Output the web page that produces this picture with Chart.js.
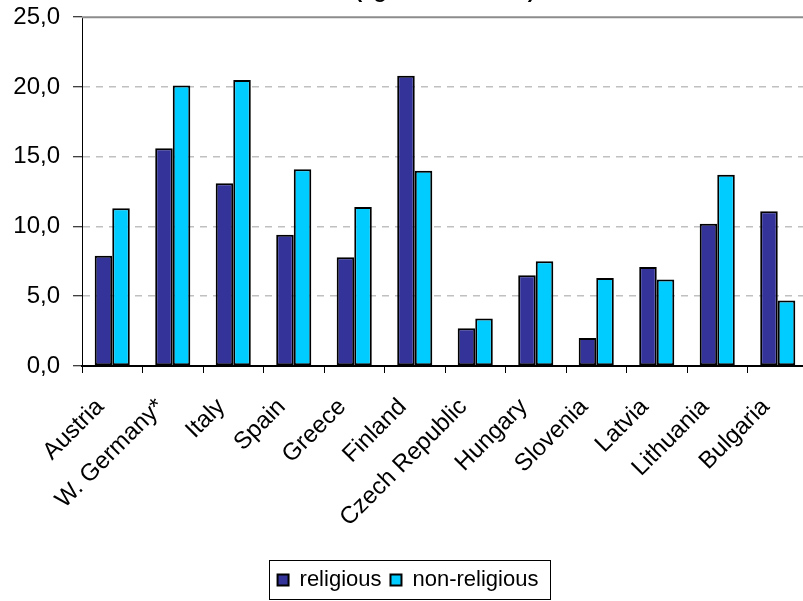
<!DOCTYPE html>
<html><head><meta charset="utf-8">
<script src="https://cdn.jsdelivr.net/npm/chart.js@4"></script>
<style>
html,body{margin:0;padding:0;background:#fff;overflow:hidden;width:803px;height:601px;}
#wrap{position:absolute;left:0;top:-20px;width:808px;height:621px;}
</style></head><body>
<div id="wrap"><canvas id="c" width="808" height="621"></canvas></div>
<script>
const titleText = '(age 18 and older)';
const categories = ['Austria','W. Germany*','Italy','Spain','Greece','Finland','Czech Republic','Hungary','Slovenia','Latvia','Lithuania','Bulgaria'];
const religious = [7.9, 15.6, 13.1, 9.4, 7.8, 20.8, 2.7, 6.5, 2.0, 7.1, 10.2, 11.1];
const nonReligious = [11.3, 20.1, 20.5, 14.1, 11.4, 14.0, 3.4, 7.5, 6.3, 6.2, 13.7, 4.7];
const seriesNames = ['religious', 'non-religious'];
const yMin = 0, yMax = 25, yStep = 5;

Chart.defaults.font.family = "'Liberation Sans', Arial, sans-serif";
Chart.defaults.color = '#000';

const topFrame = {
  id: 'topFrame',
  afterDatasetsDraw(chart) {
    const a = chart.chartArea, ctx = chart.ctx;
    ctx.save();
    ctx.strokeStyle = '#8c8c8c';
    ctx.lineWidth = 2;
    ctx.beginPath();
    ctx.moveTo(a.left, a.top);
    ctx.lineTo(a.right, a.top);
    ctx.stroke();
    ctx.restore();
  }
};
const legendFrame = {
  id: 'legendFrame',
  afterDraw(chart) {
    const lg = chart.legend;
    if (!lg || !lg.legendHitBoxes || !lg.legendHitBoxes.length) return;
    const hb = lg.legendHitBoxes;
    let l = Infinity, r = -Infinity;
    hb.forEach(b => { l = Math.min(l, b.left); r = Math.max(r, b.left + b.width); });
    const ctx = chart.ctx;
    ctx.save();
    ctx.strokeStyle = '#000';
    ctx.lineWidth = 1;
    ctx.strokeRect(Math.round(l - 9) + 0.5, Math.round(lg.top) + 0.5, Math.round(r - l + 20), Math.round(lg.height - 2));
    ctx.restore();
  }
};

new Chart(document.getElementById('c'), {
  type: 'bar',
  data: {
    labels: categories,
    datasets: [
      { label: seriesNames[0], data: religious, backgroundColor: '#333399', borderColor: '#000', borderWidth: 2, borderSkipped: false },
      { label: seriesNames[1], data: nonReligious, backgroundColor: '#00CCFF', borderColor: '#000', borderWidth: 2, borderSkipped: false }
    ]
  },
  options: {
    responsive: false,
    animation: false,
    datasets: { bar: { categoryPercentage: 0.58, barPercentage: 1.0 } },
    layout: { padding: { left: 8, right: 0, top: 0, bottom: 0 } },
    plugins: {
      title: { display: true, text: titleText, fullSize: false, font: { size: 21, weight: 'bold' }, padding: { top: 0, bottom: 12 }, color: '#000' },
      legend: {
        position: 'bottom',
        labels: { boxWidth: 11, boxHeight: 11, padding: 9, font: { size: 22 }, color: '#000' }
      },
      tooltip: { enabled: false }
    },
    scales: {
      x: {
        offset: true,
        grid: { offset: true, drawOnChartArea: false, tickLength: 7, tickColor: '#000', tickWidth: 1 },
        border: { color: '#000', width: 2 },
        ticks: { minRotation: 45, maxRotation: 45, autoSkip: false, font: { size: 24 }, padding: 20, labelOffset: -12, color: '#000' },
        afterFit(s) { s.height = 194; s.paddingRight = 0; s.paddingLeft = 0; }
      },
      y: {
        min: yMin, max: yMax,
        grid: {
          color: c => (c.tick && (c.tick.value === yMax || c.tick.value === yMin)) ? 'rgba(0,0,0,0)' : '#c0c0c0',
          lineWidth: 1.5, tickLength: 9, tickColor: '#000', tickWidth: 1
        },
        border: { color: '#000', width: 1, dash: [7, 6] },
        ticks: { stepSize: yStep, padding: 13, font: { size: 24 }, color: '#000',
          callback: v => v.toFixed(1).replace('.', ',') },
        afterFit(s) { s.width = 74; }
      }
    }
  },
  plugins: [topFrame, legendFrame]
});
</script>
</body></html>
